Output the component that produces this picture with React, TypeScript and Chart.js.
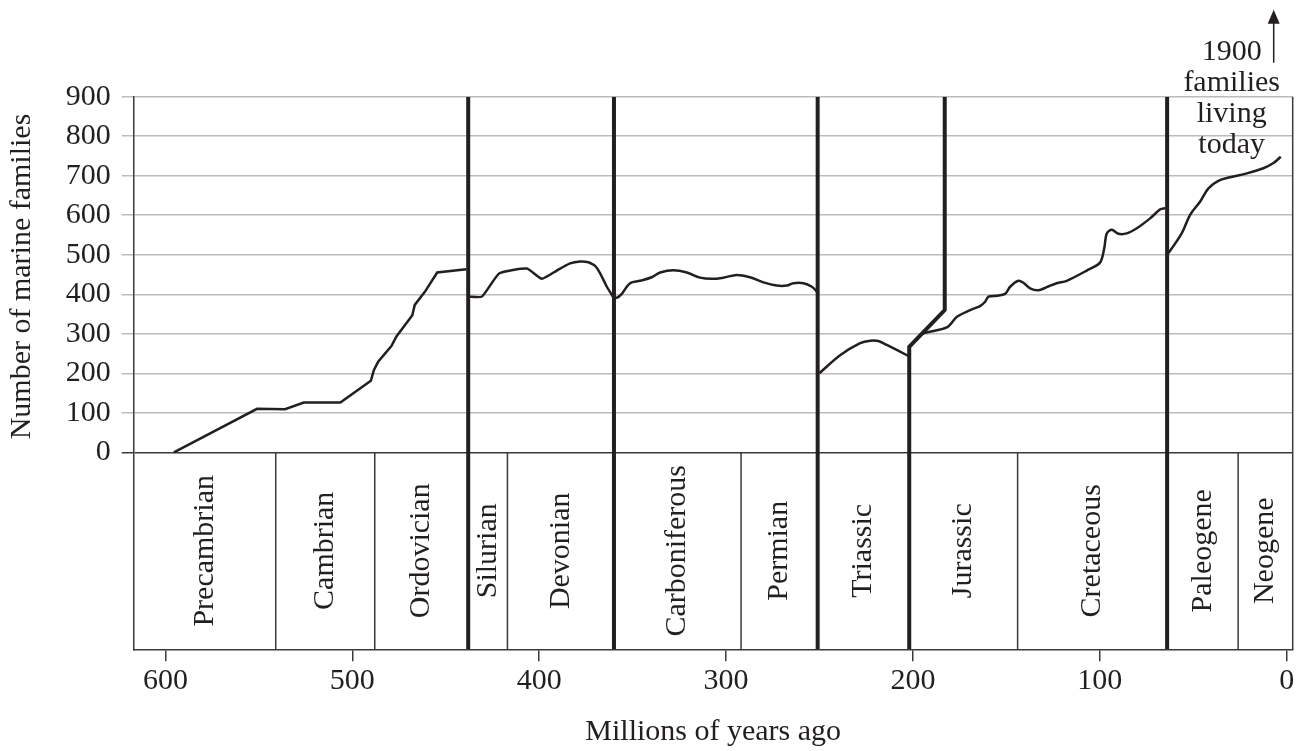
import React, { useEffect, useRef } from 'react';
import { Chart, registerables } from 'chart.js';

Chart.register(...registerables);

const FONT = '"Liberation Serif", "Times New Roman", serif';
const INK = '#231f20';
const RULE = '#3a3a3a';

// ---- axes ----
const xTickValues = [600, 500, 400, 300, 200, 100, 0];
const yTickValues = [0, 100, 200, 300, 400, 500, 600, 700, 800, 900];
const X_OLDEST = 617;
const X_NEWEST = -3.2;
const Y_MIN = -498.6;
const Y_MAX = 900;
const yAxisTitle = 'Number of marine families';

// ---- geological periods ----
const periodNames = ['Precambrian', 'Cambrian', 'Ordovician', 'Silurian', 'Devonian', 'Carboniferous', 'Permian', 'Triassic', 'Jurassic', 'Cretaceous', 'Paleogene', 'Neogene'];
const periodBoundaries = [541, 488, 438, 417, 360, 292, 251, 202, 144, 64, 26];
const thinBoundaries = [541, 488, 417, 292, 144, 26];
const extinctionAges = [438, 360, 251, 64];
const triJurLineAges = [202, 202, 183, 183];
const triJurLineFamilies = [Y_MIN, 267, 360, 900];

// ---- number of marine families (age in Ma, families) ----
const earlyPaleozoicAges = [595.5, 551, 536, 526, 506.4, 490.1, 488.5, 486.2, 479.1, 476.4, 467.9, 466.6, 461.2, 454.6, 439];
const earlyPaleozoicFamilies = [0, 110, 109, 126, 126, 181, 208, 229, 269, 293, 347, 373, 406, 455, 463];

const silDevAges = [437.9, 430.7, 421.3, 406.6, 398.6, 390.6, 383.5, 378.1, 373.7, 370.1, 367.4, 363.8, 360.6];
const silDevFamilies = [394, 394, 453, 465, 439, 460, 478, 483, 481, 472, 453, 419, 394];

const carbPermAges = [360.6, 358.5, 355.8, 351.4, 346, 339.8, 335.3, 328.2, 321, 313.9, 307.7, 301.4, 294.3, 287.2, 280, 272.9, 267.5, 264, 258.6, 254.1, 251.5];
const carbPermFamilies = [394, 391, 401, 428, 434, 443, 455, 461, 455, 442, 439, 442, 449, 443, 430, 422, 422, 428, 428, 419, 407];

const triassicAges = [250.1, 239, 228.3, 222.9, 218.5, 214, 202.4];
const triassicFamilies = [200, 245.5, 276, 282.5, 281.7, 271.6, 243.7];

const jurCretAges = [199, 195.3, 181.9, 176.5, 169.4, 164.1, 161.4, 159.6, 155.1, 150.7, 148, 143.6, 140.9, 137.3, 132.9, 128.4, 123.1, 117.7, 107, 99.9, 97.7, 96.3, 93.6, 90.1, 85.6, 80.2, 73.1, 67.7, 65];
const jurCretFamilies = [281, 299, 316, 343, 360, 370, 381, 394, 396, 401, 419, 434, 429, 415, 410, 418, 428, 434, 460, 480, 515, 554, 563, 553, 554, 567, 592, 615, 618];

const cenozoicAges = [63.3, 56.2, 51.7, 46.4, 41.9, 36.6, 30.3, 21.4, 12.5, 7.1, 3.2];
const cenozoicFamilies = [504, 554, 601, 634, 668, 687, 696, 706, 719, 732, 748];

const annotationLines = ['1900', 'families', 'living', 'today'];

const pts = (xs: number[], ys: number[]) => xs.map((x, i) => ({ x, y: ys[i] }));

const curveStyle = (tension: number) => ({
  borderColor: INK,
  borderWidth: 2.5,
  pointRadius: 0,
  fill: false,
  tension,
});

const overlayPlugin = {
  id: 'overlay',
  afterDatasetsDraw(chart: any) {
    const { ctx, chartArea, scales } = chart;
    const xs = scales.x;
    const ys = scales.y;
    ctx.save();
    // right frame
    ctx.strokeStyle = RULE;
    ctx.lineWidth = 1.5;
    ctx.beginPath();
    ctx.moveTo(chartArea.right, chartArea.top);
    ctx.lineTo(chartArea.right, chartArea.bottom);
    ctx.stroke();

    ctx.font = `30px ${FONT}`;
    ctx.fillStyle = INK;
    ctx.textAlign = 'center';
    ctx.textBaseline = 'middle';

    // y-axis title, centred on the 0–900 range
    const ty = (ys.getPixelForValue(0) + ys.getPixelForValue(Y_MAX)) / 2 + 2;
    ctx.save();
    ctx.translate(22, ty);
    ctx.rotate(-Math.PI / 2);
    ctx.fillText(yAxisTitle, 0, 0);
    ctx.restore();

    // period labels
    const edges = [X_OLDEST, ...periodBoundaries, X_NEWEST];
    const cy = ys.getPixelForValue(Y_MIN / 2);
    periodNames.forEach((name, i) => {
      const cx = (xs.getPixelForValue(edges[i]) + xs.getPixelForValue(edges[i + 1])) / 2;
      ctx.save();
      ctx.translate(cx, cy);
      ctx.rotate(-Math.PI / 2);
      ctx.fillText(name, 0, 0);
      ctx.restore();
    });

    // annotation
    const ax = chartArea.right - 61;
    ctx.textBaseline = 'alphabetic';
    annotationLines.forEach((t, i) => {
      ctx.fillText(t, ax, chartArea.top - 37 + i * 31);
    });
    // arrow
    const arX = chartArea.right - 19;
    ctx.strokeStyle = INK;
    ctx.lineWidth = 1.5;
    ctx.beginPath();
    ctx.moveTo(arX, chartArea.top - 34);
    ctx.lineTo(arX, chartArea.top - 74);
    ctx.stroke();
    ctx.beginPath();
    ctx.moveTo(arX, chartArea.top - 87);
    ctx.lineTo(arX - 6, chartArea.top - 73);
    ctx.lineTo(arX + 6, chartArea.top - 73);
    ctx.closePath();
    ctx.fill();
    ctx.restore();
  },
};

export default function App() {
  const ref = useRef<HTMLCanvasElement>(null);

  useEffect(() => {
    if (!ref.current) return;
    const datasets: any[] = [];
    thinBoundaries.forEach((a) => {
      datasets.push({
        data: pts([a, a], [0, Y_MIN]),
        borderColor: RULE,
        borderWidth: 1.5,
        pointRadius: 0,
        tension: 0,
      });
    });
    extinctionAges.forEach((a) => {
      datasets.push({
        data: pts([a, a], [Y_MIN, Y_MAX]),
        borderColor: INK,
        borderWidth: 4,
        pointRadius: 0,
        tension: 0,
      });
    });
    datasets.push({
      data: pts(triJurLineAges, triJurLineFamilies),
      borderColor: INK,
      borderWidth: 4,
      pointRadius: 0,
      tension: 0,
    });
    datasets.push({ data: pts(earlyPaleozoicAges, earlyPaleozoicFamilies), ...curveStyle(0) });
    datasets.push({ data: pts(silDevAges, silDevFamilies), ...curveStyle(0.15) });
    datasets.push({ data: pts(carbPermAges, carbPermFamilies), ...curveStyle(0.35) });
    datasets.push({ data: pts(triassicAges, triassicFamilies), ...curveStyle(0.3) });
    datasets.push({ data: pts(jurCretAges, jurCretFamilies), ...curveStyle(0.3) });
    datasets.push({ data: pts(cenozoicAges, cenozoicFamilies), ...curveStyle(0.35) });

    const chart = new Chart(ref.current, {
      type: 'line',
      data: { datasets },
      plugins: [overlayPlugin],
      options: {
        responsive: false,
        maintainAspectRatio: false,
        devicePixelRatio: 1,
        animation: false,
        events: [],
        layout: { padding: { left: 0, top: 96.7, right: 16.3, bottom: 0 } },
        plugins: { legend: { display: false }, tooltip: { enabled: false } },
        scales: {
          x: {
            type: 'linear',
            reverse: true,
            min: X_NEWEST,
            max: X_OLDEST,
            afterBuildTicks: (scale: any) => {
              scale.ticks = xTickValues.map((v) => ({ value: v }));
            },
            afterFit: (scale: any) => {
              scale.height = 101.7;
            },
            grid: {
              drawOnChartArea: false,
              drawTicks: true,
              tickLength: 12,
              color: RULE,
              lineWidth: 1.5,
            },
            border: { display: true, color: RULE, width: 1.5 },
            ticks: {
              color: INK,
              padding: 2,
              maxRotation: 0,
              autoSkip: false,
              font: { family: FONT, size: 30 },
              callback: (v: any) => String(v),
            },
            title: {
              display: true,
              text: 'Millions of years ago',
              color: INK,
              font: { family: FONT, size: 30 },
              padding: { top: 0, bottom: 1 },
            },
          },
          y: {
            type: 'linear',
            min: Y_MIN,
            max: Y_MAX,
            afterBuildTicks: (scale: any) => {
              scale.ticks = yTickValues.map((v) => ({ value: v }));
            },
            afterFit: (scale: any) => {
              scale.width = 133.7;
            },
            grid: {
              drawTicks: true,
              tickLength: 12,
              color: (c: any) => (c.tick && c.tick.value === 0 ? RULE : '#bcbcbc'),
              lineWidth: 1.5,
            },
            border: { display: true, color: RULE, width: 1.5 },
            ticks: {
              color: INK,
              padding: 11,
              autoSkip: false,
              font: { family: FONT, size: 30 },
              callback: (v: any) => String(v),
            },
            title: { display: false },
          },
        },
      },
    } as any);
    return () => chart.destroy();
  }, []);

  return (
    <div style={{ position: 'fixed', left: 0, top: 0, width: 1309, height: 751, background: '#fff' }}>
      <canvas ref={ref} width={1309} height={751} style={{ display: 'block', width: 1309, height: 751 }} />
    </div>
  );
}
